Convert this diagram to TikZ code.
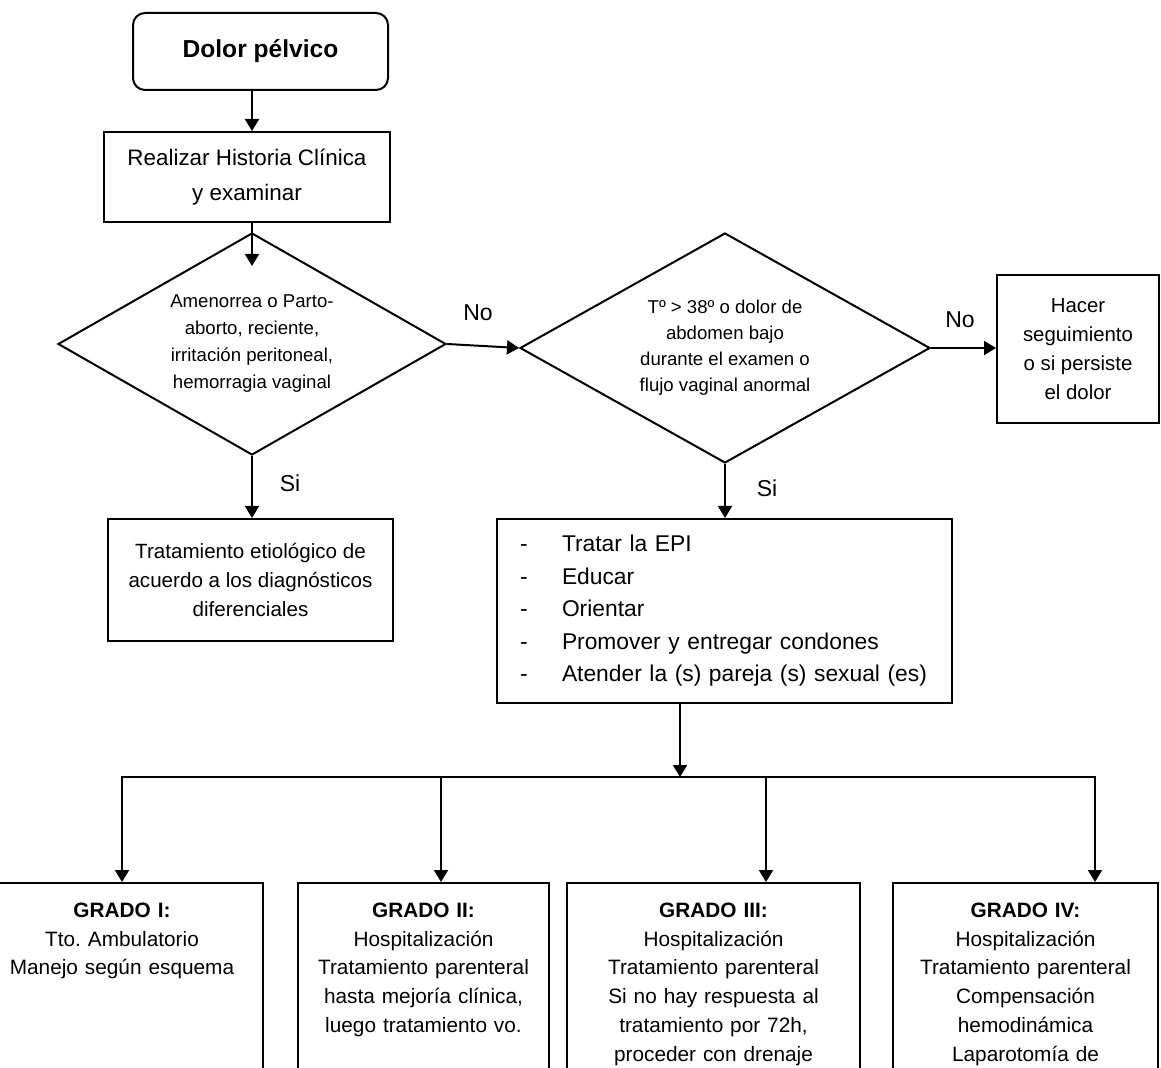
\documentclass[tikz,border=0pt]{standalone}
\usepackage{fontspec}
\setmainfont{Liberation Sans}
\usetikzlibrary{shapes.geometric,arrows.meta}
\newcommand{\guion}{\makebox[21pt][l]{-}}
\frenchspacing

\begin{document}
\begin{tikzpicture}[x=0.5pt, y=-0.5pt, line width=1pt,
    every node/.style={align=center, inner sep=0pt},
    box/.style={draw, rectangle},
    dec/.style={draw, diamond, inner sep=0pt},
    gbox/.style={draw, rectangle, anchor=north, inner xsep=0pt, inner ysep=10pt, text depth=150pt, font=\fontsize{10.4}{14.35}\selectfont},
    lbl/.style={font=\fontsize{11.5}{13}\selectfont},
    arr/.style={-{Triangle[length=6pt, width=7pt]}}]
            \useasboundingbox (0,0) rectangle (1161,1068);
            \clip (0,0) rectangle (1161,1068);
            \node[box, rounded corners=6pt, minimum width=127.5pt, minimum height=38.5pt, font=\bfseries\fontsize{12.3}{14}\selectfont] (dolor) at (260.5,51.5) {Dolor pélvico};
            \node[box, minimum width=143pt, minimum height=45pt, font=\fontsize{11.2}{17.5}\selectfont] (hc) at (247,177) {Realizar Historia Clínica\\ y examinar};
            \node[dec, aspect=1.75, minimum width=194pt, minimum height=111pt, font=\fontsize{9.3}{13.5}\selectfont] (d1) at (252,344) {Amenorrea o Parto-\\ aborto, reciente,\\ irritación peritoneal,\\ hemorragia vaginal};
            \node[dec, aspect=1.78, minimum width=205pt, minimum height=115pt, font=\fontsize{9.3}{13}\selectfont] (d2) at (725,348) {Tº > 38º o dolor de\\ abdomen bajo\\ durante el examen o\\ flujo vaginal anormal};
            \node[box, minimum width=81pt, minimum height=74pt, font=\fontsize{10.2}{14.5}\selectfont] (seg) at (1078,349) {Hacer\\ seguimiento\\ o si persiste\\ el dolor};
            \node[box, minimum width=142.5pt, minimum height=61pt, font=\fontsize{10.3}{14.5}\selectfont] (trat) at (250.5,580) {Tratamiento etiológico de\\ acuerdo a los diagnósticos\\ diferenciales};
            \node[box, minimum width=227.5pt, minimum height=92pt, text width=204.5pt, align=left, inner xsep=11.5pt, font=\fontsize{11.4}{16.25}\selectfont] (epi) at (724.5,611) {\guion Tratar la EPI\\ \guion Educar\\ \guion Orientar\\ \guion Promover y entregar condones\\ \guion Atender la (s) pareja (s) sexual (es)};
            \node[lbl] (no1) at (478,313) {No};
            \node[lbl] (no2) at (960,320) {No};
            \node[lbl] (si1) at (290,483) {Si};
            \node[lbl] (si2) at (767,488) {Si};

            \node[gbox, text width=141pt] (g1) at (122,882) {\textbf{GRADO I:}\\ Tto. Ambulatorio\\ Manejo según esquema};
            \node[gbox, text width=125.5pt] (g2) at (423.5,882) {\textbf{GRADO II:}\\ Hospitalización\\ Tratamiento parenteral\\ hasta mejoría clínica,\\ luego tratamiento vo.};
            \node[gbox, text width=146.5pt] (g3) at (713.5,882) {\textbf{GRADO III:}\\ Hospitalización\\ Tratamiento parenteral\\ Si no hay respuesta al\\ tratamiento por 72h,\\ proceder con drenaje};
            \node[gbox, text width=132.5pt] (g4) at (1025.5,882) {\textbf{GRADO IV:}\\ Hospitalización\\ Tratamiento parenteral\\ Compensación\\ hemodinámica\\ Laparotomía de};
            \coordinate (bus) at (680,777);
            \coordinate (t2) at (441,882);
            \coordinate (t3) at (766,882);
            \coordinate (t4) at (1095,882);

            \draw[arr] (dolor.south -| d1.north) -- (hc.north -| d1.north);
            \draw[arr, shorten >=-17pt] (hc.south -| d1.north) -- (d1.north);
            \draw[arr] (d1.east) -- (d2.west);
            \draw[arr] (d2.east) -- (d2.east -| seg.west);
            \draw[arr] (d1.south) -- (d1.south |- trat.north);
            \draw[arr] (d2.south) -- (d2.south |- epi.north);
            \draw[arr] (epi.south -| bus) -- (bus);
            \draw[{Triangle[length=6pt, width=7pt]}-{Triangle[length=6pt, width=7pt]}] (g1.north) -- (bus -| g1.north) -- (bus -| t4) -- (t4);
            \draw[arr] (bus -| t2) -- (t2);
            \draw[arr] (bus -| t3) -- (t3);
\end{tikzpicture}
\end{document}
